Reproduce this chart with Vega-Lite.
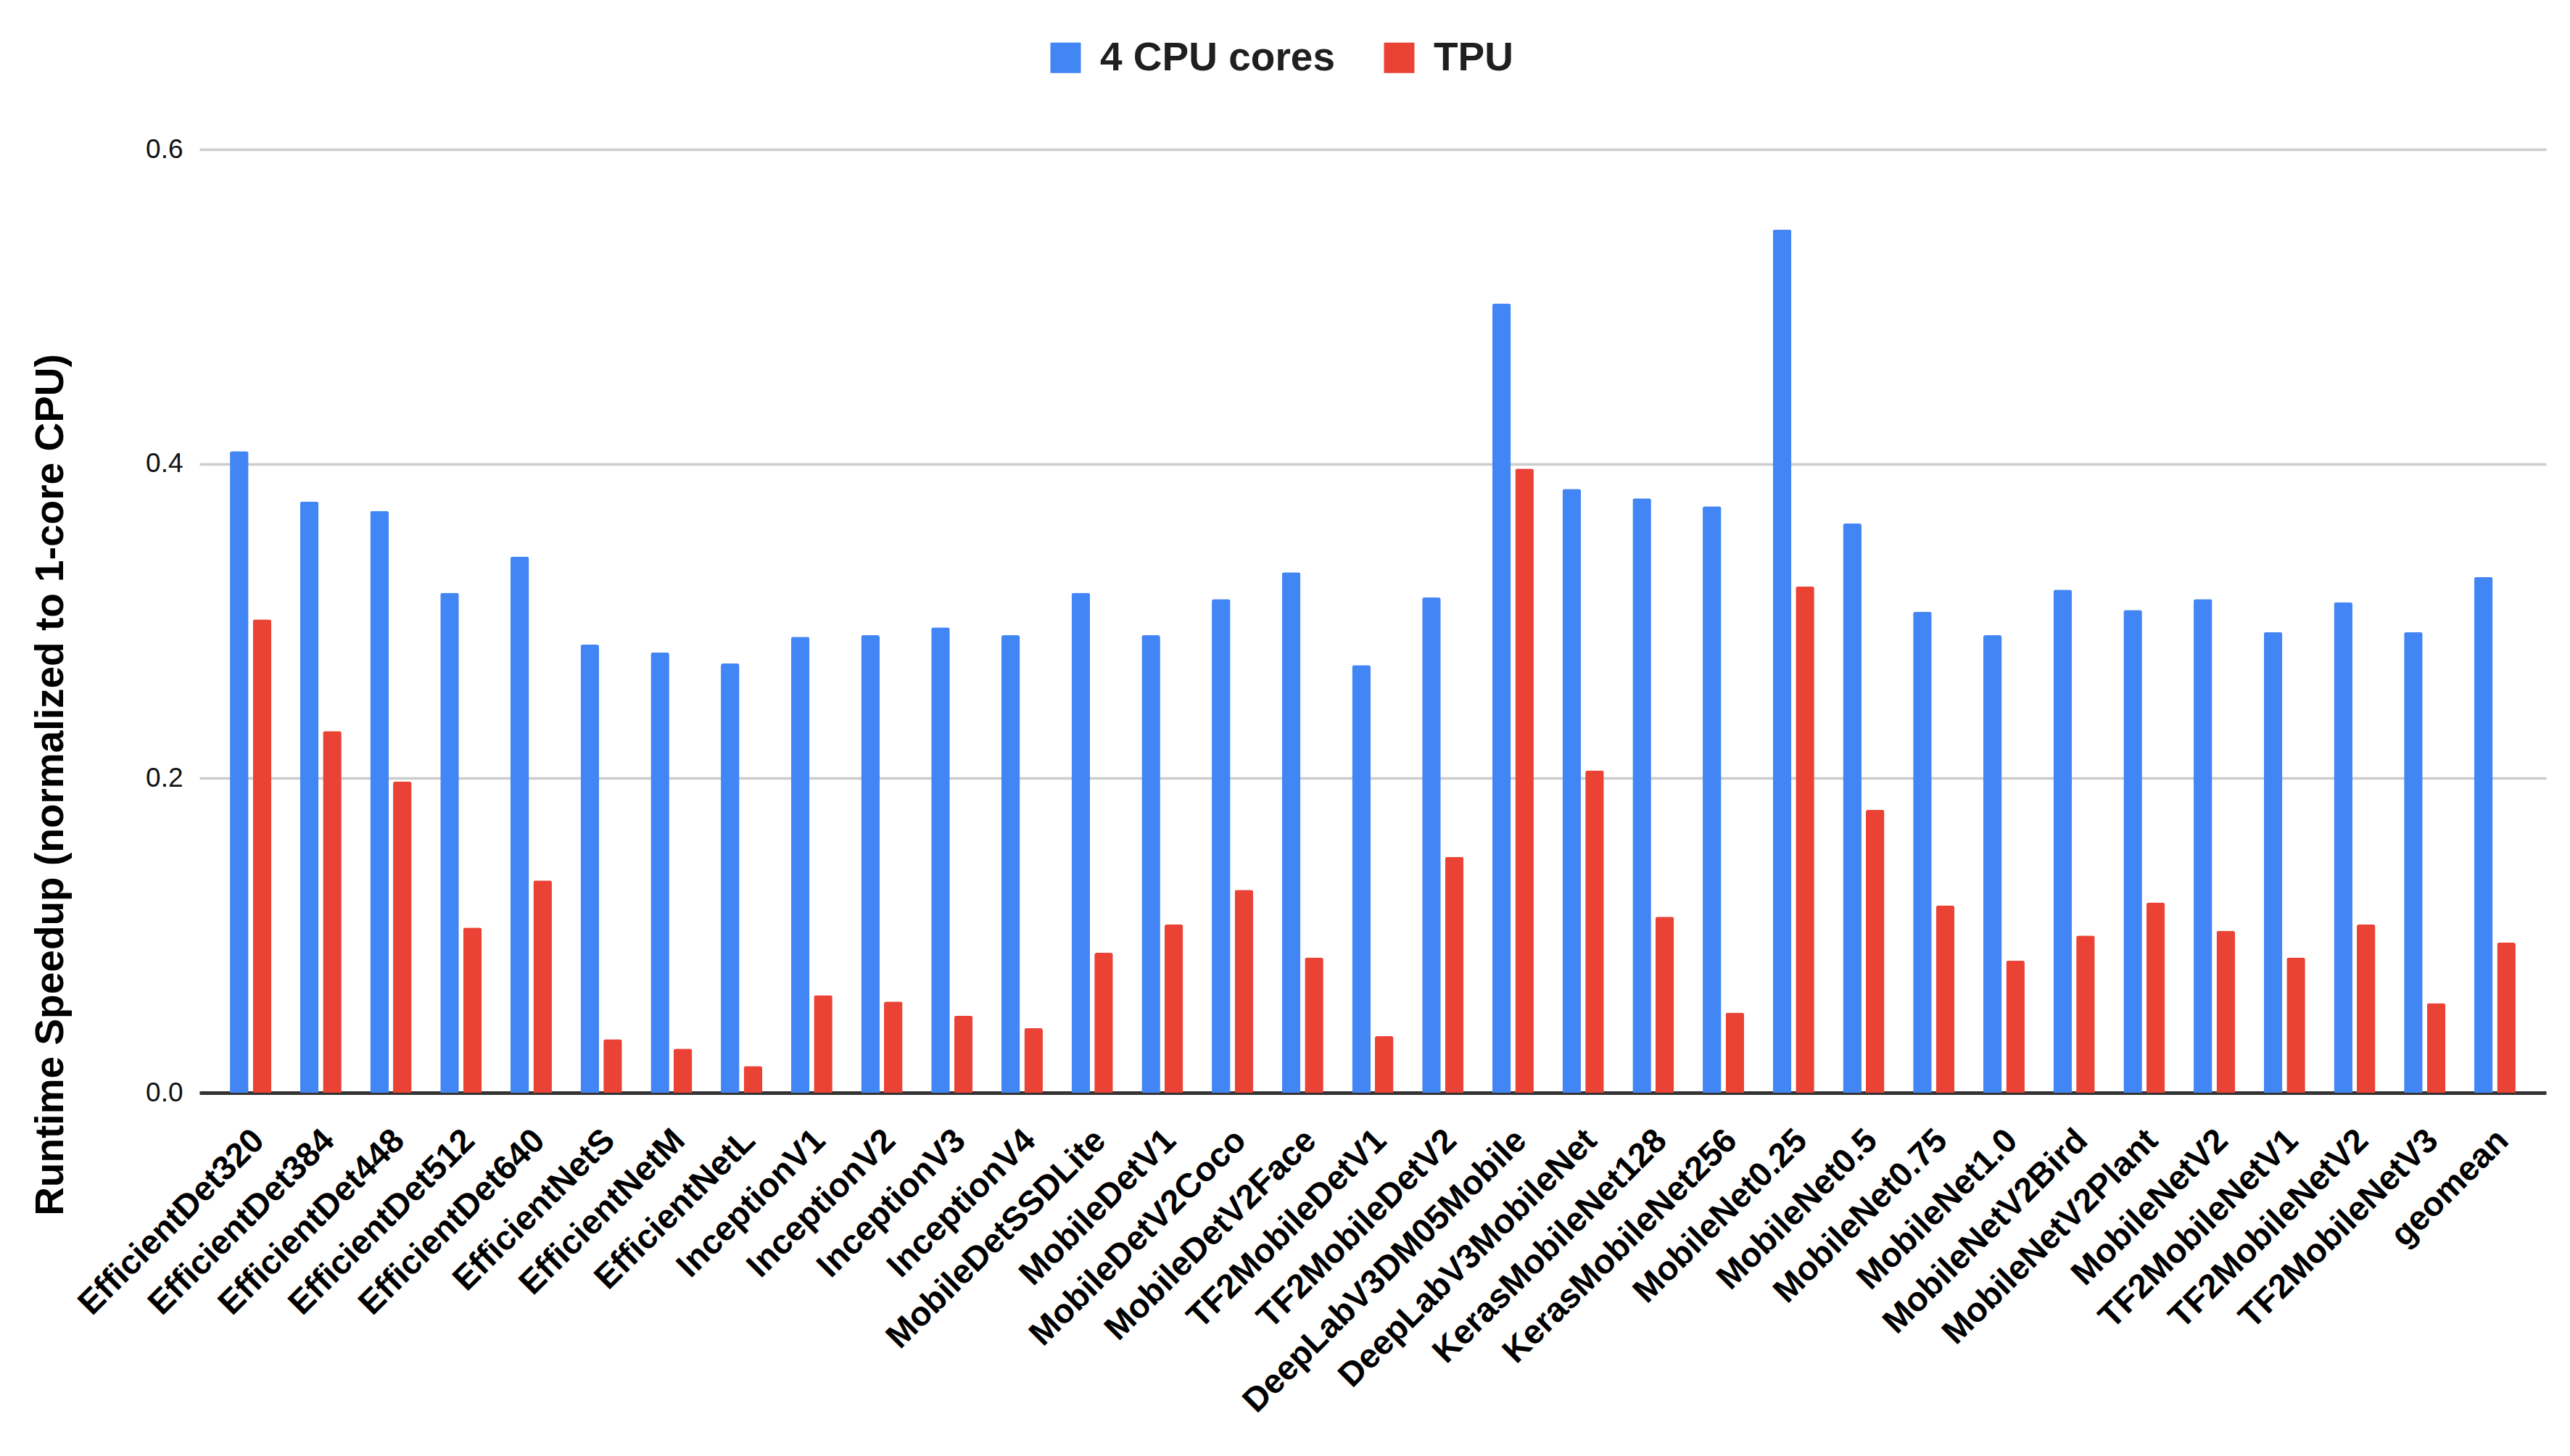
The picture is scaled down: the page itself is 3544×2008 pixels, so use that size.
{
  "$schema": "https://vega.github.io/schema/vega-lite/v6.json",
  "width": 3236,
  "height": 1301,
  "autosize": {"type": "none"},
  "padding": {"left": 275, "top": 206, "right": 33, "bottom": 501},
  "background": "#ffffff",
  "config": {
    "view": {"stroke": null},
    "font": "Liberation Sans"
  },
  "data": {
    "values": [
      {"model": "EfficientDet320", "series": "4 CPU cores", "value": 0.408},
      {"model": "EfficientDet320", "series": "TPU", "value": 0.301},
      {"model": "EfficientDet384", "series": "4 CPU cores", "value": 0.376},
      {"model": "EfficientDet384", "series": "TPU", "value": 0.230},
      {"model": "EfficientDet448", "series": "4 CPU cores", "value": 0.370},
      {"model": "EfficientDet448", "series": "TPU", "value": 0.198},
      {"model": "EfficientDet512", "series": "4 CPU cores", "value": 0.318},
      {"model": "EfficientDet512", "series": "TPU", "value": 0.105},
      {"model": "EfficientDet640", "series": "4 CPU cores", "value": 0.341},
      {"model": "EfficientDet640", "series": "TPU", "value": 0.135},
      {"model": "EfficientNetS", "series": "4 CPU cores", "value": 0.285},
      {"model": "EfficientNetS", "series": "TPU", "value": 0.034},
      {"model": "EfficientNetM", "series": "4 CPU cores", "value": 0.280},
      {"model": "EfficientNetM", "series": "TPU", "value": 0.028},
      {"model": "EfficientNetL", "series": "4 CPU cores", "value": 0.273},
      {"model": "EfficientNetL", "series": "TPU", "value": 0.017},
      {"model": "InceptionV1", "series": "4 CPU cores", "value": 0.290},
      {"model": "InceptionV1", "series": "TPU", "value": 0.062},
      {"model": "InceptionV2", "series": "4 CPU cores", "value": 0.291},
      {"model": "InceptionV2", "series": "TPU", "value": 0.058},
      {"model": "InceptionV3", "series": "4 CPU cores", "value": 0.296},
      {"model": "InceptionV3", "series": "TPU", "value": 0.049},
      {"model": "InceptionV4", "series": "4 CPU cores", "value": 0.291},
      {"model": "InceptionV4", "series": "TPU", "value": 0.041},
      {"model": "MobileDetSSDLite", "series": "4 CPU cores", "value": 0.318},
      {"model": "MobileDetSSDLite", "series": "TPU", "value": 0.089},
      {"model": "MobileDetV1", "series": "4 CPU cores", "value": 0.291},
      {"model": "MobileDetV1", "series": "TPU", "value": 0.107},
      {"model": "MobileDetV2Coco", "series": "4 CPU cores", "value": 0.314},
      {"model": "MobileDetV2Coco", "series": "TPU", "value": 0.129},
      {"model": "MobileDetV2Face", "series": "4 CPU cores", "value": 0.331},
      {"model": "MobileDetV2Face", "series": "TPU", "value": 0.086},
      {"model": "TF2MobileDetV1", "series": "4 CPU cores", "value": 0.272},
      {"model": "TF2MobileDetV1", "series": "TPU", "value": 0.036},
      {"model": "TF2MobileDetV2", "series": "4 CPU cores", "value": 0.315},
      {"model": "TF2MobileDetV2", "series": "TPU", "value": 0.150},
      {"model": "DeepLabV3DM05Mobile", "series": "4 CPU cores", "value": 0.502},
      {"model": "DeepLabV3DM05Mobile", "series": "TPU", "value": 0.397},
      {"model": "DeepLabV3MobileNet", "series": "4 CPU cores", "value": 0.384},
      {"model": "DeepLabV3MobileNet", "series": "TPU", "value": 0.205},
      {"model": "KerasMobileNet128", "series": "4 CPU cores", "value": 0.378},
      {"model": "KerasMobileNet128", "series": "TPU", "value": 0.112},
      {"model": "KerasMobileNet256", "series": "4 CPU cores", "value": 0.373},
      {"model": "KerasMobileNet256", "series": "TPU", "value": 0.051},
      {"model": "MobileNet0.25", "series": "4 CPU cores", "value": 0.549},
      {"model": "MobileNet0.25", "series": "TPU", "value": 0.322},
      {"model": "MobileNet0.5", "series": "4 CPU cores", "value": 0.362},
      {"model": "MobileNet0.5", "series": "TPU", "value": 0.180},
      {"model": "MobileNet0.75", "series": "4 CPU cores", "value": 0.306},
      {"model": "MobileNet0.75", "series": "TPU", "value": 0.119},
      {"model": "MobileNet1.0", "series": "4 CPU cores", "value": 0.291},
      {"model": "MobileNet1.0", "series": "TPU", "value": 0.084},
      {"model": "MobileNetV2Bird", "series": "4 CPU cores", "value": 0.320},
      {"model": "MobileNetV2Bird", "series": "TPU", "value": 0.100},
      {"model": "MobileNetV2Plant", "series": "4 CPU cores", "value": 0.307},
      {"model": "MobileNetV2Plant", "series": "TPU", "value": 0.121},
      {"model": "MobileNetV2", "series": "4 CPU cores", "value": 0.314},
      {"model": "MobileNetV2", "series": "TPU", "value": 0.103},
      {"model": "TF2MobileNetV1", "series": "4 CPU cores", "value": 0.293},
      {"model": "TF2MobileNetV1", "series": "TPU", "value": 0.086},
      {"model": "TF2MobileNetV2", "series": "4 CPU cores", "value": 0.312},
      {"model": "TF2MobileNetV2", "series": "TPU", "value": 0.107},
      {"model": "TF2MobileNetV3", "series": "4 CPU cores", "value": 0.293},
      {"model": "TF2MobileNetV3", "series": "TPU", "value": 0.057},
      {"model": "geomean", "series": "4 CPU cores", "value": 0.328},
      {"model": "geomean", "series": "TPU", "value": 0.0955}
    ]
  },
  "mark": {"type": "bar", "cornerRadiusTopLeft": 3, "cornerRadiusTopRight": 3},
  "encoding": {
    "x": {
      "field": "model",
      "type": "nominal",
      "sort": null,
      "scale": {"paddingInner": 0.41, "paddingOuter": 0.435},
      "axis": {
        "title": null,
        "labelAngle": -45,
        "labelAlign": "right",
        "labelBaseline": "top",
        "labelFont": "Liberation Sans",
        "labelFontWeight": "bold",
        "labelFontSize": 47,
        "labelColor": "#000000",
        "labelPadding": 42,
        "labelOffset": -5,
        "labelOverlap": false,
        "labelLimit": 0,
        "labelBound": false,
        "ticks": false,
        "domain": true,
        "domainColor": "#333333",
        "domainWidth": 5,
        "grid": false
      }
    },
    "xOffset": {
      "field": "series",
      "type": "nominal",
      "sort": ["4 CPU cores", "TPU"],
      "scale": {"paddingInner": 0.19, "paddingOuter": 0}
    },
    "y": {
      "field": "value",
      "type": "quantitative",
      "scale": {"domain": [0, 0.6], "nice": false},
      "axis": {
        "title": "Runtime Speedup (normalized to 1-core CPU)",
        "titleFont": "Liberation Sans",
        "titleFontWeight": "bold",
        "titleFontSize": 55,
        "titleColor": "#000000",
        "titleX": -189,
        "titleY": 876,
        "titleAngle": -90,
        "titleAlign": "center",
        "titleBaseline": "alphabetic",
        "values": [0, 0.2, 0.4, 0.6],
        "format": ".1f",
        "labelFont": "Liberation Sans",
        "labelFontSize": 37,
        "labelColor": "#111111",
        "labelPadding": 23,
        "ticks": false,
        "domain": false,
        "grid": true,
        "gridColor": "#cccccc",
        "gridWidth": 3.5
      }
    },
    "color": {
      "field": "series",
      "type": "nominal",
      "sort": ["4 CPU cores", "TPU"],
      "scale": {"domain": ["4 CPU cores", "TPU"], "range": ["#4285F4", "#EA4335"]},
      "legend": {
        "title": null,
        "orient": "none",
        "direction": "horizontal",
        "legendX": 1167,
        "legendY": -154,
        "padding": 0,
        "symbolType": "square",
        "symbolSize": 1764,
        "symbolStrokeWidth": 0,
        "labelFont": "Liberation Sans",
        "labelFontWeight": "bold",
        "labelFontSize": 55,
        "labelColor": "#1f1f1f",
        "labelOffset": 20,
        "columnPadding": 60,
        "labelLimit": 0
      }
    }
  }
}
